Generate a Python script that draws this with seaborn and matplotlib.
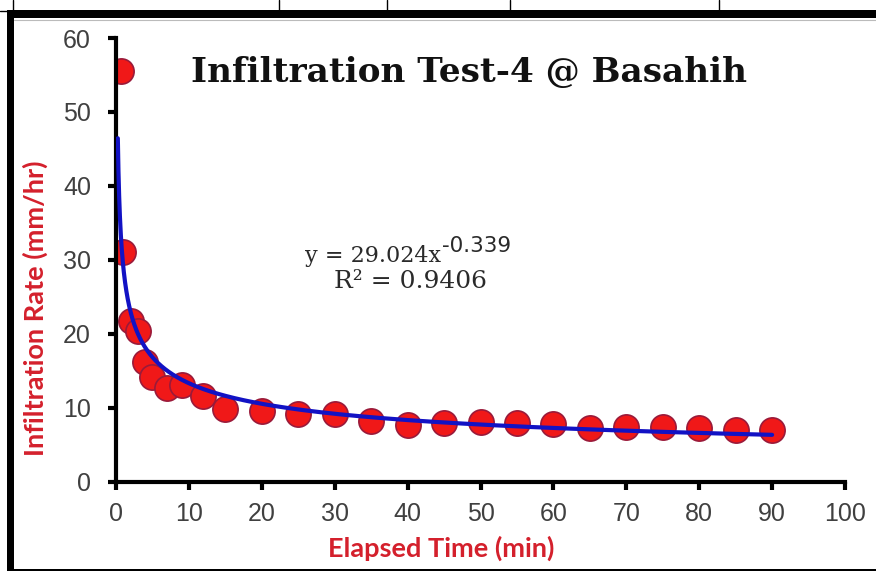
import numpy as np
import pandas as pd
import seaborn as sns
import matplotlib
matplotlib.use("Agg")
import matplotlib.pyplot as plt
from matplotlib.patches import Rectangle
from matplotlib.lines import Line2D

# ---- data ----
elapsed_time = [0.75, 1, 2, 3, 4, 5, 7, 9, 12, 15, 20, 25, 30, 35, 40, 45, 50, 55, 60, 65, 70, 75, 80, 85, 90]
infiltration_rate = [55.5, 31.0, 21.7, 20.3, 16.1, 14.2, 12.6, 13.1, 11.5, 9.8, 9.6, 9.1, 9.1, 8.2, 7.7,
                     7.9, 8.1, 7.9, 7.8, 7.3, 7.4, 7.4, 7.2, 6.9, 6.9]
fit_coef = 29.024
fit_exp = -0.339
fit_r2 = 0.9406
trend_range = [0.25, 90]
x_ticks = [0, 10, 20, 30, 40, 50, 60, 70, 80, 90, 100]
y_ticks = [0, 10, 20, 30, 40, 50, 60]
title = "Infiltration Test-4 @ Basahih"
x_label = "Elapsed Time (min)"
y_label = "Infiltration Rate (mm/hr)"

df = pd.DataFrame({"t": elapsed_time, "r": infiltration_rate})
tx = np.geomspace(trend_range[0], trend_range[1], 400)
trend = pd.DataFrame({"t": tx, "r": fit_coef * tx ** fit_exp})

sns.set_theme(style="ticks")
plt.rcParams["font.family"] = ["Liberation Sans", "DejaVu Sans"]

W, H = 876, 572
fig = plt.figure(figsize=(W / 100, H / 100), dpi=100)
fig.patch.set_facecolor("white")

def fx(px):
    return px / W

def fy(py):
    return 1 - py / H

x0, x1, y0, y1 = 116, 845, 481.5, 38
ax = fig.add_axes([fx(x0), fy(y0), fx(x1) - fx(x0), fy(y1) - fy(y0)])
ax.set_facecolor("white")

sns.lineplot(data=trend, x="t", y="r", ax=ax, color="#1212C4", lw=3.0, zorder=3, sort=False)
sns.scatterplot(data=df, x="t", y="r", ax=ax, s=330, color="#F01818", edgecolor="#9A1A3A",
                linewidth=1.2, zorder=2)

ax.set_xlim(0, 100)
ax.set_ylim(0, 60)
ax.set_xticks(x_ticks)
ax.set_yticks(y_ticks)
ax.set_xticklabels([str(v) for v in x_ticks])
ax.set_yticklabels([str(v) for v in y_ticks])
for s in ["top", "right"]:
    ax.spines[s].set_visible(False)
for s in ["left", "bottom"]:
    ax.spines[s].set_linewidth(3)
    ax.spines[s].set_color("black")
ax.tick_params(axis="both", direction="out", length=6, width=3, color="black",
               labelsize=18, labelcolor="#404040")
ax.tick_params(axis="y", pad=12)
ax.tick_params(axis="x", pad=9)
ax.set_xlabel("")
ax.set_ylabel("")
ax.grid(False)

red = "#D4202C"
fig.text(fx(441), fy(548), x_label, ha="center", va="center", color=red,
         fontsize=19.5, fontweight="bold", family=["Lato", "DejaVu Sans"])
fig.text(fx(35), fy(308), y_label, ha="center", va="center", color=red, rotation=90,
         fontsize=19.5, fontweight="bold", family=["Lato", "DejaVu Sans"])

fig.text(fx(469), fy(73), title, ha="center", va="center", color="#111111",
         fontsize=24.7, fontweight="bold", family=["DejaVu Serif"])

t1 = fig.text(fx(305), fy(256), "y = %.3fx" % fit_coef, ha="left", va="center",
              color="#2a2a2a", fontsize=16, family=["DejaVu Serif"])
ax.annotate("%.3f" % fit_exp, xy=(1.01, 0.5), xycoords=t1, ha="left", va="bottom",
            color="#2a2a2a", fontsize=15.5, family=["DejaVu Sans"])
fig.text(fx(411), fy(282), "R² = %.4f" % fit_r2, ha="center", va="center",
         color="#2a2a2a", fontsize=18, family=["DejaVu Serif"])

# frame / cropped table lines
fig.add_artist(Rectangle((fx(7), fy(18)), fx(876) - fx(7), fy(10) - fy(18), transform=fig.transFigure,
                         facecolor="black", edgecolor="none"))
fig.add_artist(Rectangle((fx(7), fy(571)), fx(14) - fx(7), fy(10) - fy(571), transform=fig.transFigure,
                         facecolor="black", edgecolor="none"))
fig.add_artist(Rectangle((fx(7), fy(571)), fx(876) - fx(7), fy(569) - fy(571), transform=fig.transFigure,
                         facecolor="black", edgecolor="none"))
fig.add_artist(Line2D([fx(14), fx(876)], [fy(19.5), fy(19.5)], transform=fig.transFigure,
                      color="#bbbbbb", lw=0.8))
for xp in [12.5, 279, 387, 510, 719]:
    fig.add_artist(Line2D([fx(xp), fx(xp)], [fy(0), fy(10)], transform=fig.transFigure,
                          color="black", lw=1.0))
fig.add_artist(Line2D([fx(0), fx(12.5)], [fy(10.5), fy(10.5)], transform=fig.transFigure,
                      color="black", lw=1.0))

fig.savefig("out.png", dpi=100, facecolor="white")
